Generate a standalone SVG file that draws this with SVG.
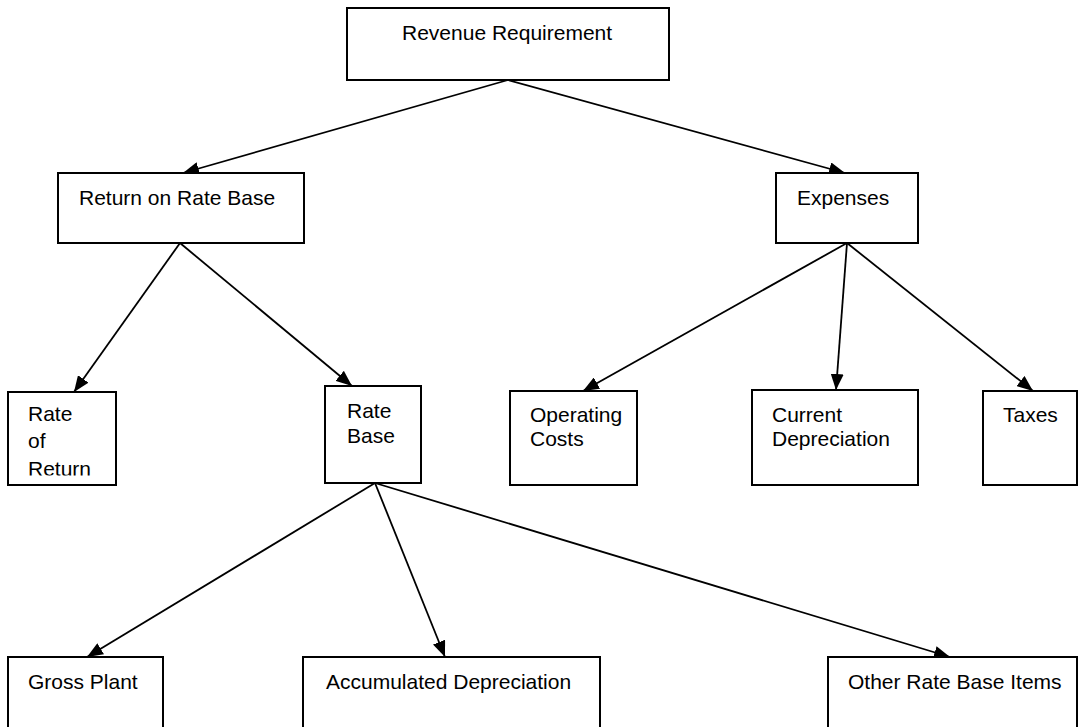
<svg xmlns="http://www.w3.org/2000/svg" width="1081" height="727" viewBox="0 0 1081 727">
<style>
.box{fill:#fff;stroke:#000;stroke-width:2}
.lbl{font-family:"Liberation Sans",Arial,sans-serif;font-size:21px;fill:#000}
.con line{stroke:#000;stroke-width:1.8;fill:none}
</style>
<defs>
<marker id="ah" viewBox="0 0 16 13" refX="16" refY="6.5" markerWidth="16" markerHeight="13" markerUnits="userSpaceOnUse" orient="auto">
<path d="M0,0 L16,6.5 L0,13 z" fill="#000"/>
</marker>
<clipPath id="clipRR"><rect x="0" y="380" width="130" height="95.5"/></clipPath>
</defs>
<rect width="1081" height="727" fill="#fff"/>
<g class="con">
<line x1="508" y1="80" x2="183" y2="173" marker-end="url(#ah)"/>
<line x1="508" y1="80" x2="845" y2="173" marker-end="url(#ah)"/>
<line x1="180" y1="243" x2="74" y2="392" marker-end="url(#ah)"/>
<line x1="180" y1="243" x2="352" y2="386" marker-end="url(#ah)"/>
<line x1="847" y1="243" x2="583" y2="391" marker-end="url(#ah)"/>
<line x1="847" y1="243" x2="836" y2="390" marker-end="url(#ah)"/>
<line x1="847" y1="243" x2="1033" y2="391" marker-end="url(#ah)"/>
<line x1="375" y1="483" x2="87" y2="657" marker-end="url(#ah)"/>
<line x1="375" y1="483" x2="445" y2="657" marker-end="url(#ah)"/>
<line x1="375" y1="483" x2="950" y2="657" marker-end="url(#ah)"/>
</g>
<g id="revenue-requirement"><rect class="box" x="347" y="8" width="322" height="72"/><text class="lbl" x="402" y="40">Revenue Requirement</text></g>
<g id="return-on-rate-base"><rect class="box" x="58" y="173" width="246" height="70"/><text class="lbl" x="79" y="205">Return on Rate Base</text></g>
<g id="expenses"><rect class="box" x="776" y="173" width="142" height="70"/><text class="lbl" x="797" y="205">Expenses</text></g>
<g id="rate-of-return"><rect class="box" x="8" y="392" width="108" height="93"/><g clip-path="url(#clipRR)"><text class="lbl" x="28" y="421">Rate</text><text class="lbl" x="28" y="448">of</text><text class="lbl" x="28" y="475.5">Return</text></g></g>
<g id="rate-base"><rect class="box" x="325" y="386" width="96" height="97"/><text class="lbl" x="347" y="418">Rate</text><text class="lbl" x="347" y="443">Base</text></g>
<g id="operating-costs"><rect class="box" x="510" y="391" width="127" height="94"/><text class="lbl" x="530" y="422">Operating</text><text class="lbl" x="530" y="446">Costs</text></g>
<g id="current-depreciation"><rect class="box" x="752" y="390" width="166" height="95"/><text class="lbl" x="772" y="422">Current</text><text class="lbl" x="772" y="446">Depreciation</text></g>
<g id="taxes"><rect class="box" x="983" y="391" width="94" height="94"/><text class="lbl" x="1003" y="422">Taxes</text></g>
<g id="gross-plant"><rect class="box" x="8" y="657" width="155" height="80"/><text class="lbl" x="28" y="689">Gross Plant</text></g>
<g id="accumulated-depreciation"><rect class="box" x="303" y="657" width="297" height="80"/><text class="lbl" x="326" y="689">Accumulated Depreciation</text></g>
<g id="other-rate-base-items"><rect class="box" x="828" y="657" width="249" height="80"/><text class="lbl" x="848" y="689">Other Rate Base Items</text></g>
</svg>
